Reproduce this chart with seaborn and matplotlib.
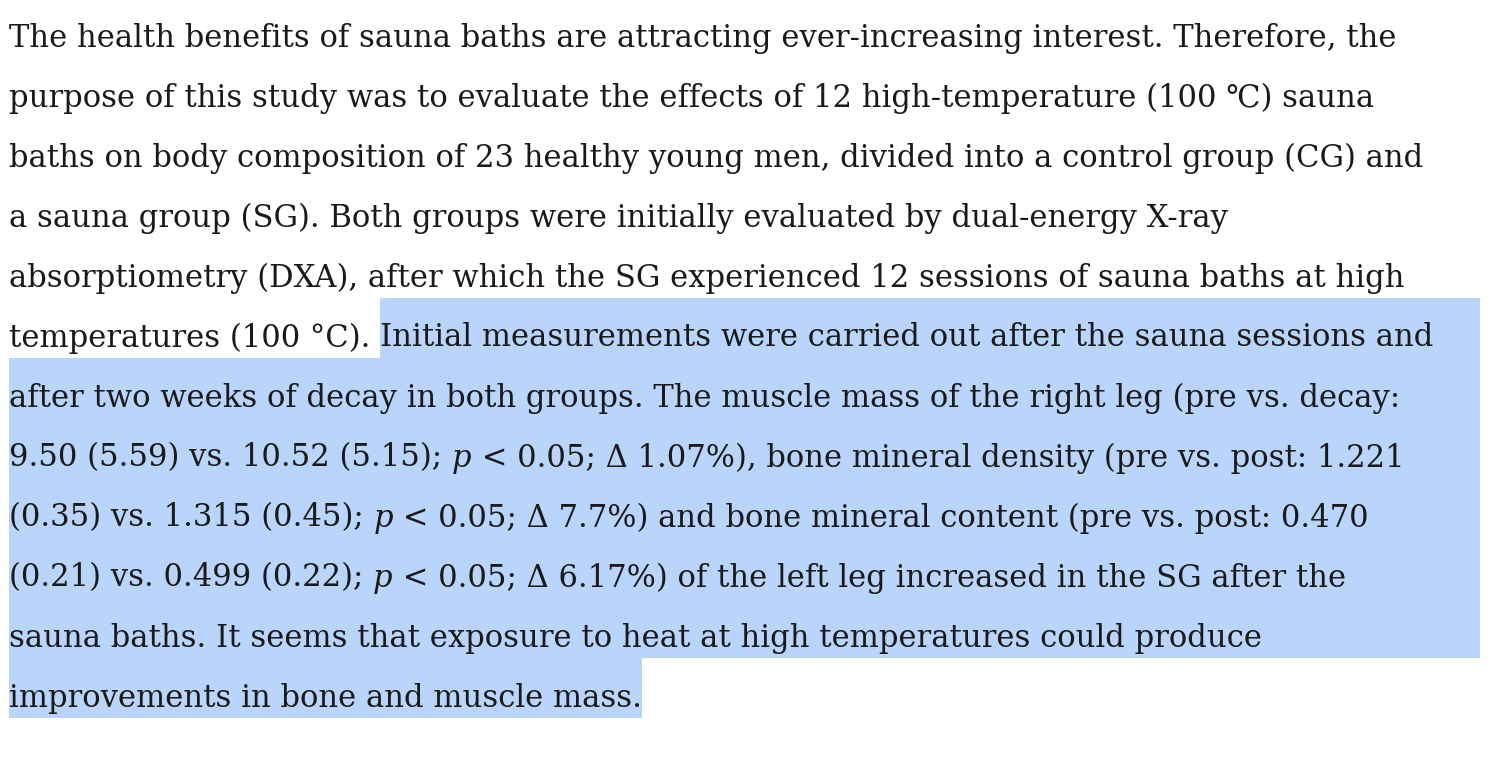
import matplotlib
matplotlib.use("Agg")
import matplotlib.pyplot as plt
import seaborn as sns
from matplotlib.patches import Rectangle

sns.set_theme(style="white")

# lines of text: list of segments (text, italic)
lines = [
    [("The health benefits of sauna baths are attracting ever-increasing interest. Therefore, the", False)],
    [("purpose of this study was to evaluate the effects of 12 high-temperature (100 \u2103) sauna", False)],
    [("baths on body composition of 23 healthy young men, divided into a control group (CG) and", False)],
    [("a sauna group (SG). Both groups were initially evaluated by dual-energy X-ray", False)],
    [("absorptiometry (DXA), after which the SG experienced 12 sessions of sauna baths at high", False)],
    [("temperatures (100 \u00b0C). ", False), ("Initial measurements were carried out after the sauna sessions and", False)],
    [("after two weeks of decay in both groups. The muscle mass of the right leg (pre vs. decay:", False)],
    [("9.50 (5.59) vs. 10.52 (5.15); ", False), ("p", True), (" < 0.05; \u0394 1.07%), bone mineral density (pre vs. post: 1.221", False)],
    [("(0.35) vs. 1.315 (0.45); ", False), ("p", True), (" < 0.05; \u0394 7.7%) and bone mineral content (pre vs. post: 0.470", False)],
    [("(0.21) vs. 0.499 (0.22); ", False), ("p", True), (" < 0.05; \u0394 6.17%) of the left leg increased in the SG after the", False)],
    [("sauna baths. It seems that exposure to heat at high temperatures could produce", False)],
    [("improvements in bone and muscle mass.", False)],
]
# index of first highlighted segment per line (None = no highlight)
highlight_start = [None, None, None, None, None, 1, 0, 0, 0, 0, 0, 0]

W, H = 1502, 768
fig = plt.figure(figsize=(W / 100, H / 100), dpi=100)
ax = fig.add_axes([0, 0, 1, 1])
ax.set_xlim(0, W)
ax.set_ylim(H, 0)
ax.axis("off")
fig.canvas.draw()
r = fig.canvas.get_renderer()

family = "DejaVu Serif"
# fit font size so first line spans ~1381 px like the reference
probe = ax.text(0, 0, lines[0][0][0], fontsize=20, family=family)
w20 = probe.get_window_extent(r).width
probe.remove()
fs = 20 * 1381 / w20

left, top, step = 9, 38, 60
hl_color = "#b9d5fb"
for i, segs in enumerate(lines):
    y = top + i * step
    x = left
    hs = highlight_start[i]
    hx = None
    for j, (t, it) in enumerate(segs):
        if hs is not None and j == hs:
            hx = x
        txt = ax.text(x, y, t, fontsize=fs, family=family,
                      style="italic" if it else "normal", color="#1a1a1a",
                      va="center", ha="left", zorder=3)
        bb = txt.get_window_extent(r)
        x += bb.width
    if hx is not None:
        right = x if i == len(lines) - 1 else 1480
        ax.add_patch(Rectangle((hx, y - 40), right - hx, 60, color=hl_color, zorder=1, lw=0))

fig.savefig("out.png", dpi=100)
